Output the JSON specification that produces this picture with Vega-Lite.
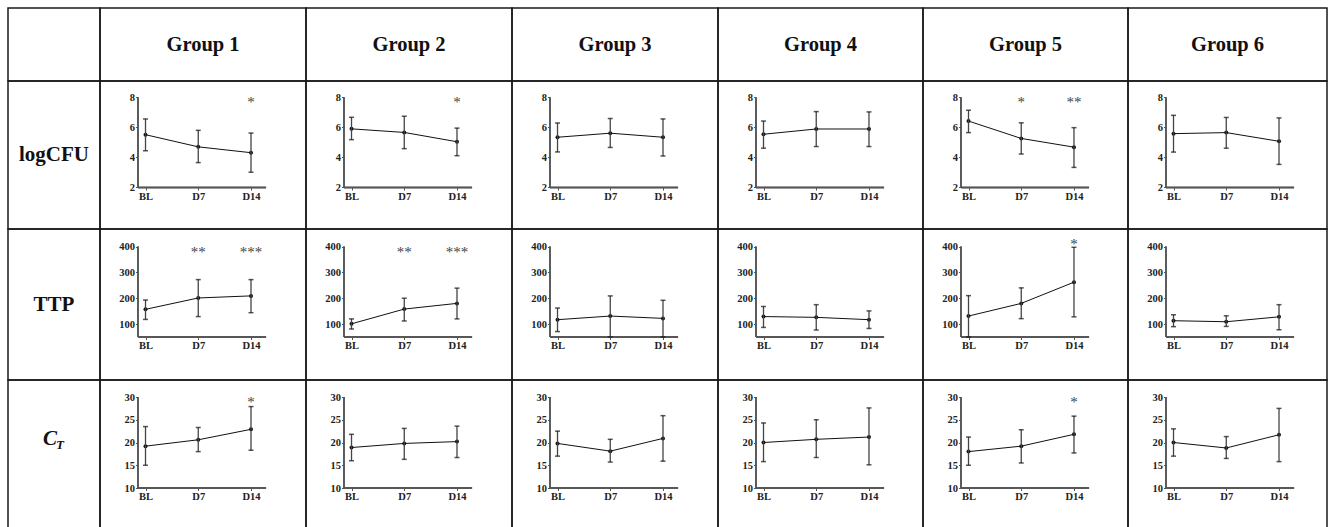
{
"$schema": "https://vega.github.io/schema/vega-lite/v6.json",
"padding": {"left": 7, "top": 7, "right": 0, "bottom": 0},
"columns": 7,
"spacing": 0,
"bounds": "flush",
"align": "each",
"datasets": {"d": [
{"g":1,"m":"logCFU","day":0,"mean":5.52,"lo":4.45,"hi":6.57,"sig":""},
{"g":1,"m":"logCFU","day":7,"mean":4.71,"lo":3.66,"hi":5.81,"sig":""},
{"g":1,"m":"logCFU","day":14,"mean":4.32,"lo":3.02,"hi":5.63,"sig":"*"},
{"g":2,"m":"logCFU","day":0,"mean":5.91,"lo":5.19,"hi":6.68,"sig":""},
{"g":2,"m":"logCFU","day":7,"mean":5.67,"lo":4.59,"hi":6.75,"sig":""},
{"g":2,"m":"logCFU","day":14,"mean":5.05,"lo":4.12,"hi":5.96,"sig":"*"},
{"g":3,"m":"logCFU","day":0,"mean":5.35,"lo":4.37,"hi":6.30,"sig":""},
{"g":3,"m":"logCFU","day":7,"mean":5.62,"lo":4.67,"hi":6.60,"sig":""},
{"g":3,"m":"logCFU","day":14,"mean":5.35,"lo":4.10,"hi":6.57,"sig":""},
{"g":4,"m":"logCFU","day":0,"mean":5.55,"lo":4.62,"hi":6.43,"sig":""},
{"g":4,"m":"logCFU","day":7,"mean":5.90,"lo":4.73,"hi":7.06,"sig":""},
{"g":4,"m":"logCFU","day":14,"mean":5.90,"lo":4.73,"hi":7.04,"sig":""},
{"g":5,"m":"logCFU","day":0,"mean":6.43,"lo":5.66,"hi":7.15,"sig":""},
{"g":5,"m":"logCFU","day":7,"mean":5.27,"lo":4.23,"hi":6.31,"sig":"*"},
{"g":5,"m":"logCFU","day":14,"mean":4.69,"lo":3.34,"hi":5.99,"sig":"**"},
{"g":6,"m":"logCFU","day":0,"mean":5.59,"lo":4.36,"hi":6.81,"sig":""},
{"g":6,"m":"logCFU","day":7,"mean":5.66,"lo":4.62,"hi":6.67,"sig":""},
{"g":6,"m":"logCFU","day":14,"mean":5.08,"lo":3.54,"hi":6.64,"sig":""},
{"g":1,"m":"TTP","day":0,"mean":157,"lo":118,"hi":193,"sig":""},
{"g":1,"m":"TTP","day":7,"mean":201,"lo":129,"hi":272,"sig":"**"},
{"g":1,"m":"TTP","day":14,"mean":209,"lo":144,"hi":272,"sig":"***"},
{"g":2,"m":"TTP","day":0,"mean":101,"lo":81,"hi":120,"sig":""},
{"g":2,"m":"TTP","day":7,"mean":158,"lo":112,"hi":200,"sig":"**"},
{"g":2,"m":"TTP","day":14,"mean":180,"lo":120,"hi":239,"sig":"***"},
{"g":3,"m":"TTP","day":0,"mean":117,"lo":71,"hi":162,"sig":""},
{"g":3,"m":"TTP","day":7,"mean":131,"lo":50,"hi":209,"sig":""},
{"g":3,"m":"TTP","day":14,"mean":122,"lo":50,"hi":192,"sig":""},
{"g":4,"m":"TTP","day":0,"mean":129,"lo":87,"hi":168,"sig":""},
{"g":4,"m":"TTP","day":7,"mean":126,"lo":77,"hi":175,"sig":""},
{"g":4,"m":"TTP","day":14,"mean":117,"lo":83,"hi":151,"sig":""},
{"g":5,"m":"TTP","day":0,"mean":131,"lo":50,"hi":210,"sig":""},
{"g":5,"m":"TTP","day":7,"mean":180,"lo":121,"hi":240,"sig":""},
{"g":5,"m":"TTP","day":14,"mean":262,"lo":128,"hi":397,"sig":"*"},
{"g":6,"m":"TTP","day":0,"mean":113,"lo":90,"hi":136,"sig":""},
{"g":6,"m":"TTP","day":7,"mean":109,"lo":91,"hi":132,"sig":""},
{"g":6,"m":"TTP","day":14,"mean":128,"lo":78,"hi":175,"sig":""},
{"g":1,"m":"CT","day":0,"mean":19.2,"lo":15.0,"hi":23.5,"sig":""},
{"g":1,"m":"CT","day":7,"mean":20.6,"lo":18.0,"hi":23.3,"sig":""},
{"g":1,"m":"CT","day":14,"mean":22.9,"lo":18.3,"hi":27.9,"sig":"*"},
{"g":2,"m":"CT","day":0,"mean":18.9,"lo":16.0,"hi":21.8,"sig":""},
{"g":2,"m":"CT","day":7,"mean":19.8,"lo":16.3,"hi":23.1,"sig":""},
{"g":2,"m":"CT","day":14,"mean":20.2,"lo":16.7,"hi":23.6,"sig":""},
{"g":3,"m":"CT","day":0,"mean":19.8,"lo":17.0,"hi":22.5,"sig":""},
{"g":3,"m":"CT","day":7,"mean":18.1,"lo":15.7,"hi":20.7,"sig":""},
{"g":3,"m":"CT","day":14,"mean":20.9,"lo":15.9,"hi":25.9,"sig":""},
{"g":4,"m":"CT","day":0,"mean":20.0,"lo":15.8,"hi":24.3,"sig":""},
{"g":4,"m":"CT","day":7,"mean":20.7,"lo":16.7,"hi":25.0,"sig":""},
{"g":4,"m":"CT","day":14,"mean":21.2,"lo":15.1,"hi":27.6,"sig":""},
{"g":5,"m":"CT","day":0,"mean":18.0,"lo":15.0,"hi":21.2,"sig":""},
{"g":5,"m":"CT","day":7,"mean":19.2,"lo":15.5,"hi":22.8,"sig":""},
{"g":5,"m":"CT","day":14,"mean":21.8,"lo":17.7,"hi":25.8,"sig":"*"},
{"g":6,"m":"CT","day":0,"mean":20.0,"lo":17.0,"hi":23.0,"sig":""},
{"g":6,"m":"CT","day":7,"mean":18.8,"lo":16.5,"hi":21.3,"sig":""},
{"g":6,"m":"CT","day":14,"mean":21.7,"lo":15.8,"hi":27.5,"sig":""}
]},
"concat": [
{"width":92,"height":73,"view":{"stroke":"#1a1a1a","strokeWidth":1.5},"data":{"values":[{"label":""}]},"mark":{"type":"text"},"encoding":{"text":{"field":"label"}}},
{"width":206,"height":73,"view":{"stroke":"#1a1a1a","strokeWidth":1.5},"data":{"values":[{"label":"Group 1"}]},"mark":{"type":"text","fontSize":20.5,"fontWeight":"bold","color":"#111"},"encoding":{"text":{"field":"label"}}},
{"width":206,"height":73,"view":{"stroke":"#1a1a1a","strokeWidth":1.5},"data":{"values":[{"label":"Group 2"}]},"mark":{"type":"text","fontSize":20.5,"fontWeight":"bold","color":"#111"},"encoding":{"text":{"field":"label"}}},
{"width":206,"height":73,"view":{"stroke":"#1a1a1a","strokeWidth":1.5},"data":{"values":[{"label":"Group 3"}]},"mark":{"type":"text","fontSize":20.5,"fontWeight":"bold","color":"#111"},"encoding":{"text":{"field":"label"}}},
{"width":205,"height":73,"view":{"stroke":"#1a1a1a","strokeWidth":1.5},"data":{"values":[{"label":"Group 4"}]},"mark":{"type":"text","fontSize":20.5,"fontWeight":"bold","color":"#111"},"encoding":{"text":{"field":"label"}}},
{"width":205,"height":73,"view":{"stroke":"#1a1a1a","strokeWidth":1.5},"data":{"values":[{"label":"Group 5"}]},"mark":{"type":"text","fontSize":20.5,"fontWeight":"bold","color":"#111"},"encoding":{"text":{"field":"label"}}},
{"width":199,"height":73,"view":{"stroke":"#1a1a1a","strokeWidth":1.5},"data":{"values":[{"label":"Group 6"}]},"mark":{"type":"text","fontSize":20.5,"fontWeight":"bold","color":"#111"},"encoding":{"text":{"field":"label"}}},

{"width":92,"height":148,"view":{"stroke":"#1a1a1a","strokeWidth":1.5},"data":{"values":[{"label":"logCFU"}]},"mark":{"type":"text","fontSize":21,"fontWeight":"bold","color":"#111"},"encoding":{"text":{"field":"label"}}},
{"width":206,"height":148,"data":{"name":"d"},"transform":[{"filter":"datum.g==1 && datum.m=='logCFU'"}],"resolve":{"axis":{"x":"independent","y":"independent"}},"layer":[
{"mark":{"type":"line","color":"#111","strokeWidth":1,"point":{"filled":true,"size":16,"color":"#111"}},"encoding":{"x":{"field":"day","type":"quantitative","scale":{"domain":[-6.04,21.3],"nice":false},"axis":{"values":[0,7,14],"offset":-41.5,"title":null,"labelExpr":"datum.value == 0 ? 'BL' : 'D' + datum.value"}},"y":{"field":"mean","type":"quantitative","scale":{"domain":[-0.767,9.1],"nice":false},"axis":{"values":[2,4,6,8],"title":null}}}},
{"mark":{"type":"rule","color":"#555","strokeWidth":1.3},"encoding":{"x":{"datum":-1,"type":"quantitative","scale":{"domain":[-6.04,21.3],"nice":false},"axis":null},"y":{"datum":2,"type":"quantitative","scale":{"domain":[-0.767,9.1],"nice":false},"axis":null},"y2":{"datum":8}}},
{"mark":{"type":"rule","color":"#555","strokeWidth":1.3},"encoding":{"x":{"datum":-1,"type":"quantitative","scale":{"domain":[-6.04,21.3],"nice":false},"axis":null},"x2":{"datum":16},"y":{"datum":2,"type":"quantitative","scale":{"domain":[-0.767,9.1],"nice":false},"axis":null}}},
{"mark":{"type":"rule","color":"#444","strokeWidth":1.3},"encoding":{"x":{"field":"day","type":"quantitative","scale":{"domain":[-6.04,21.3],"nice":false},"axis":null},"y":{"field":"lo","type":"quantitative","scale":{"domain":[-0.767,9.1],"nice":false},"axis":null},"y2":{"field":"hi"}}},
{"mark":{"type":"tick","orient":"horizontal","size":5,"thickness":1.5,"color":"#111"},"encoding":{"x":{"field":"day","type":"quantitative","scale":{"domain":[-6.04,21.3],"nice":false},"axis":null},"y":{"field":"lo","type":"quantitative","scale":{"domain":[-0.767,9.1],"nice":false},"axis":null}}},
{"mark":{"type":"tick","orient":"horizontal","size":5,"thickness":1.5,"color":"#111"},"encoding":{"x":{"field":"day","type":"quantitative","scale":{"domain":[-6.04,21.3],"nice":false},"axis":null},"y":{"field":"hi","type":"quantitative","scale":{"domain":[-0.767,9.1],"nice":false},"axis":null}}},
{"mark":{"type":"text","fontSize":15,"color":"#444","dy":5},"encoding":{"x":{"field":"day","type":"quantitative","scale":{"domain":[-6.04,21.3],"nice":false},"axis":null},"y":{"datum":8,"type":"quantitative","scale":{"domain":[-0.767,9.1],"nice":false},"axis":null},"text":{"field":"sig"}}}
]},
{"width":206,"height":148,"data":{"name":"d"},"transform":[{"filter":"datum.g==2 && datum.m=='logCFU'"}],"resolve":{"axis":{"x":"independent","y":"independent"}},"layer":[
{"mark":{"type":"line","color":"#111","strokeWidth":1,"point":{"filled":true,"size":16,"color":"#111"}},"encoding":{"x":{"field":"day","type":"quantitative","scale":{"domain":[-6.04,21.3],"nice":false},"axis":{"values":[0,7,14],"offset":-41.5,"title":null,"labelExpr":"datum.value == 0 ? 'BL' : 'D' + datum.value"}},"y":{"field":"mean","type":"quantitative","scale":{"domain":[-0.767,9.1],"nice":false},"axis":{"values":[2,4,6,8],"title":null}}}},
{"mark":{"type":"rule","color":"#555","strokeWidth":1.3},"encoding":{"x":{"datum":-1,"type":"quantitative","scale":{"domain":[-6.04,21.3],"nice":false},"axis":null},"y":{"datum":2,"type":"quantitative","scale":{"domain":[-0.767,9.1],"nice":false},"axis":null},"y2":{"datum":8}}},
{"mark":{"type":"rule","color":"#555","strokeWidth":1.3},"encoding":{"x":{"datum":-1,"type":"quantitative","scale":{"domain":[-6.04,21.3],"nice":false},"axis":null},"x2":{"datum":16},"y":{"datum":2,"type":"quantitative","scale":{"domain":[-0.767,9.1],"nice":false},"axis":null}}},
{"mark":{"type":"rule","color":"#444","strokeWidth":1.3},"encoding":{"x":{"field":"day","type":"quantitative","scale":{"domain":[-6.04,21.3],"nice":false},"axis":null},"y":{"field":"lo","type":"quantitative","scale":{"domain":[-0.767,9.1],"nice":false},"axis":null},"y2":{"field":"hi"}}},
{"mark":{"type":"tick","orient":"horizontal","size":5,"thickness":1.5,"color":"#111"},"encoding":{"x":{"field":"day","type":"quantitative","scale":{"domain":[-6.04,21.3],"nice":false},"axis":null},"y":{"field":"lo","type":"quantitative","scale":{"domain":[-0.767,9.1],"nice":false},"axis":null}}},
{"mark":{"type":"tick","orient":"horizontal","size":5,"thickness":1.5,"color":"#111"},"encoding":{"x":{"field":"day","type":"quantitative","scale":{"domain":[-6.04,21.3],"nice":false},"axis":null},"y":{"field":"hi","type":"quantitative","scale":{"domain":[-0.767,9.1],"nice":false},"axis":null}}},
{"mark":{"type":"text","fontSize":15,"color":"#444","dy":5},"encoding":{"x":{"field":"day","type":"quantitative","scale":{"domain":[-6.04,21.3],"nice":false},"axis":null},"y":{"datum":8,"type":"quantitative","scale":{"domain":[-0.767,9.1],"nice":false},"axis":null},"text":{"field":"sig"}}}
]},
{"width":206,"height":148,"data":{"name":"d"},"transform":[{"filter":"datum.g==3 && datum.m=='logCFU'"}],"resolve":{"axis":{"x":"independent","y":"independent"}},"layer":[
{"mark":{"type":"line","color":"#111","strokeWidth":1,"point":{"filled":true,"size":16,"color":"#111"}},"encoding":{"x":{"field":"day","type":"quantitative","scale":{"domain":[-6.04,21.3],"nice":false},"axis":{"values":[0,7,14],"offset":-41.5,"title":null,"labelExpr":"datum.value == 0 ? 'BL' : 'D' + datum.value"}},"y":{"field":"mean","type":"quantitative","scale":{"domain":[-0.767,9.1],"nice":false},"axis":{"values":[2,4,6,8],"title":null}}}},
{"mark":{"type":"rule","color":"#555","strokeWidth":1.3},"encoding":{"x":{"datum":-1,"type":"quantitative","scale":{"domain":[-6.04,21.3],"nice":false},"axis":null},"y":{"datum":2,"type":"quantitative","scale":{"domain":[-0.767,9.1],"nice":false},"axis":null},"y2":{"datum":8}}},
{"mark":{"type":"rule","color":"#555","strokeWidth":1.3},"encoding":{"x":{"datum":-1,"type":"quantitative","scale":{"domain":[-6.04,21.3],"nice":false},"axis":null},"x2":{"datum":16},"y":{"datum":2,"type":"quantitative","scale":{"domain":[-0.767,9.1],"nice":false},"axis":null}}},
{"mark":{"type":"rule","color":"#444","strokeWidth":1.3},"encoding":{"x":{"field":"day","type":"quantitative","scale":{"domain":[-6.04,21.3],"nice":false},"axis":null},"y":{"field":"lo","type":"quantitative","scale":{"domain":[-0.767,9.1],"nice":false},"axis":null},"y2":{"field":"hi"}}},
{"mark":{"type":"tick","orient":"horizontal","size":5,"thickness":1.5,"color":"#111"},"encoding":{"x":{"field":"day","type":"quantitative","scale":{"domain":[-6.04,21.3],"nice":false},"axis":null},"y":{"field":"lo","type":"quantitative","scale":{"domain":[-0.767,9.1],"nice":false},"axis":null}}},
{"mark":{"type":"tick","orient":"horizontal","size":5,"thickness":1.5,"color":"#111"},"encoding":{"x":{"field":"day","type":"quantitative","scale":{"domain":[-6.04,21.3],"nice":false},"axis":null},"y":{"field":"hi","type":"quantitative","scale":{"domain":[-0.767,9.1],"nice":false},"axis":null}}},
{"mark":{"type":"text","fontSize":15,"color":"#444","dy":5},"encoding":{"x":{"field":"day","type":"quantitative","scale":{"domain":[-6.04,21.3],"nice":false},"axis":null},"y":{"datum":8,"type":"quantitative","scale":{"domain":[-0.767,9.1],"nice":false},"axis":null},"text":{"field":"sig"}}}
]},
{"width":205,"height":148,"data":{"name":"d"},"transform":[{"filter":"datum.g==4 && datum.m=='logCFU'"}],"resolve":{"axis":{"x":"independent","y":"independent"}},"layer":[
{"mark":{"type":"line","color":"#111","strokeWidth":1,"point":{"filled":true,"size":16,"color":"#111"}},"encoding":{"x":{"field":"day","type":"quantitative","scale":{"domain":[-6.04,21.17],"nice":false},"axis":{"values":[0,7,14],"offset":-41.5,"title":null,"labelExpr":"datum.value == 0 ? 'BL' : 'D' + datum.value"}},"y":{"field":"mean","type":"quantitative","scale":{"domain":[-0.767,9.1],"nice":false},"axis":{"values":[2,4,6,8],"title":null}}}},
{"mark":{"type":"rule","color":"#555","strokeWidth":1.3},"encoding":{"x":{"datum":-1,"type":"quantitative","scale":{"domain":[-6.04,21.17],"nice":false},"axis":null},"y":{"datum":2,"type":"quantitative","scale":{"domain":[-0.767,9.1],"nice":false},"axis":null},"y2":{"datum":8}}},
{"mark":{"type":"rule","color":"#555","strokeWidth":1.3},"encoding":{"x":{"datum":-1,"type":"quantitative","scale":{"domain":[-6.04,21.17],"nice":false},"axis":null},"x2":{"datum":16},"y":{"datum":2,"type":"quantitative","scale":{"domain":[-0.767,9.1],"nice":false},"axis":null}}},
{"mark":{"type":"rule","color":"#444","strokeWidth":1.3},"encoding":{"x":{"field":"day","type":"quantitative","scale":{"domain":[-6.04,21.17],"nice":false},"axis":null},"y":{"field":"lo","type":"quantitative","scale":{"domain":[-0.767,9.1],"nice":false},"axis":null},"y2":{"field":"hi"}}},
{"mark":{"type":"tick","orient":"horizontal","size":5,"thickness":1.5,"color":"#111"},"encoding":{"x":{"field":"day","type":"quantitative","scale":{"domain":[-6.04,21.17],"nice":false},"axis":null},"y":{"field":"lo","type":"quantitative","scale":{"domain":[-0.767,9.1],"nice":false},"axis":null}}},
{"mark":{"type":"tick","orient":"horizontal","size":5,"thickness":1.5,"color":"#111"},"encoding":{"x":{"field":"day","type":"quantitative","scale":{"domain":[-6.04,21.17],"nice":false},"axis":null},"y":{"field":"hi","type":"quantitative","scale":{"domain":[-0.767,9.1],"nice":false},"axis":null}}},
{"mark":{"type":"text","fontSize":15,"color":"#444","dy":5},"encoding":{"x":{"field":"day","type":"quantitative","scale":{"domain":[-6.04,21.17],"nice":false},"axis":null},"y":{"datum":8,"type":"quantitative","scale":{"domain":[-0.767,9.1],"nice":false},"axis":null},"text":{"field":"sig"}}}
]},
{"width":205,"height":148,"data":{"name":"d"},"transform":[{"filter":"datum.g==5 && datum.m=='logCFU'"}],"resolve":{"axis":{"x":"independent","y":"independent"}},"layer":[
{"mark":{"type":"line","color":"#111","strokeWidth":1,"point":{"filled":true,"size":16,"color":"#111"}},"encoding":{"x":{"field":"day","type":"quantitative","scale":{"domain":[-6.04,21.17],"nice":false},"axis":{"values":[0,7,14],"offset":-41.5,"title":null,"labelExpr":"datum.value == 0 ? 'BL' : 'D' + datum.value"}},"y":{"field":"mean","type":"quantitative","scale":{"domain":[-0.767,9.1],"nice":false},"axis":{"values":[2,4,6,8],"title":null}}}},
{"mark":{"type":"rule","color":"#555","strokeWidth":1.3},"encoding":{"x":{"datum":-1,"type":"quantitative","scale":{"domain":[-6.04,21.17],"nice":false},"axis":null},"y":{"datum":2,"type":"quantitative","scale":{"domain":[-0.767,9.1],"nice":false},"axis":null},"y2":{"datum":8}}},
{"mark":{"type":"rule","color":"#555","strokeWidth":1.3},"encoding":{"x":{"datum":-1,"type":"quantitative","scale":{"domain":[-6.04,21.17],"nice":false},"axis":null},"x2":{"datum":16},"y":{"datum":2,"type":"quantitative","scale":{"domain":[-0.767,9.1],"nice":false},"axis":null}}},
{"mark":{"type":"rule","color":"#444","strokeWidth":1.3},"encoding":{"x":{"field":"day","type":"quantitative","scale":{"domain":[-6.04,21.17],"nice":false},"axis":null},"y":{"field":"lo","type":"quantitative","scale":{"domain":[-0.767,9.1],"nice":false},"axis":null},"y2":{"field":"hi"}}},
{"mark":{"type":"tick","orient":"horizontal","size":5,"thickness":1.5,"color":"#111"},"encoding":{"x":{"field":"day","type":"quantitative","scale":{"domain":[-6.04,21.17],"nice":false},"axis":null},"y":{"field":"lo","type":"quantitative","scale":{"domain":[-0.767,9.1],"nice":false},"axis":null}}},
{"mark":{"type":"tick","orient":"horizontal","size":5,"thickness":1.5,"color":"#111"},"encoding":{"x":{"field":"day","type":"quantitative","scale":{"domain":[-6.04,21.17],"nice":false},"axis":null},"y":{"field":"hi","type":"quantitative","scale":{"domain":[-0.767,9.1],"nice":false},"axis":null}}},
{"mark":{"type":"text","fontSize":15,"color":"#444","dy":5},"encoding":{"x":{"field":"day","type":"quantitative","scale":{"domain":[-6.04,21.17],"nice":false},"axis":null},"y":{"datum":8,"type":"quantitative","scale":{"domain":[-0.767,9.1],"nice":false},"axis":null},"text":{"field":"sig"}}}
]},
{"width":199,"height":148,"data":{"name":"d"},"transform":[{"filter":"datum.g==6 && datum.m=='logCFU'"}],"resolve":{"axis":{"x":"independent","y":"independent"}},"layer":[
{"mark":{"type":"line","color":"#111","strokeWidth":1,"point":{"filled":true,"size":16,"color":"#111"}},"encoding":{"x":{"field":"day","type":"quantitative","scale":{"domain":[-6.04,20.37],"nice":false},"axis":{"values":[0,7,14],"offset":-41.5,"title":null,"labelExpr":"datum.value == 0 ? 'BL' : 'D' + datum.value"}},"y":{"field":"mean","type":"quantitative","scale":{"domain":[-0.767,9.1],"nice":false},"axis":{"values":[2,4,6,8],"title":null}}}},
{"mark":{"type":"rule","color":"#555","strokeWidth":1.3},"encoding":{"x":{"datum":-1,"type":"quantitative","scale":{"domain":[-6.04,20.37],"nice":false},"axis":null},"y":{"datum":2,"type":"quantitative","scale":{"domain":[-0.767,9.1],"nice":false},"axis":null},"y2":{"datum":8}}},
{"mark":{"type":"rule","color":"#555","strokeWidth":1.3},"encoding":{"x":{"datum":-1,"type":"quantitative","scale":{"domain":[-6.04,20.37],"nice":false},"axis":null},"x2":{"datum":16},"y":{"datum":2,"type":"quantitative","scale":{"domain":[-0.767,9.1],"nice":false},"axis":null}}},
{"mark":{"type":"rule","color":"#444","strokeWidth":1.3},"encoding":{"x":{"field":"day","type":"quantitative","scale":{"domain":[-6.04,20.37],"nice":false},"axis":null},"y":{"field":"lo","type":"quantitative","scale":{"domain":[-0.767,9.1],"nice":false},"axis":null},"y2":{"field":"hi"}}},
{"mark":{"type":"tick","orient":"horizontal","size":5,"thickness":1.5,"color":"#111"},"encoding":{"x":{"field":"day","type":"quantitative","scale":{"domain":[-6.04,20.37],"nice":false},"axis":null},"y":{"field":"lo","type":"quantitative","scale":{"domain":[-0.767,9.1],"nice":false},"axis":null}}},
{"mark":{"type":"tick","orient":"horizontal","size":5,"thickness":1.5,"color":"#111"},"encoding":{"x":{"field":"day","type":"quantitative","scale":{"domain":[-6.04,20.37],"nice":false},"axis":null},"y":{"field":"hi","type":"quantitative","scale":{"domain":[-0.767,9.1],"nice":false},"axis":null}}},
{"mark":{"type":"text","fontSize":15,"color":"#444","dy":5},"encoding":{"x":{"field":"day","type":"quantitative","scale":{"domain":[-6.04,20.37],"nice":false},"axis":null},"y":{"datum":8,"type":"quantitative","scale":{"domain":[-0.767,9.1],"nice":false},"axis":null},"text":{"field":"sig"}}}
]},

{"width":92,"height":151,"view":{"stroke":"#1a1a1a","strokeWidth":1.5},"data":{"values":[{"label":"TTP"}]},"mark":{"type":"text","fontSize":21,"fontWeight":"bold","color":"#111"},"encoding":{"text":{"field":"label"}}},
{"width":206,"height":151,"data":{"name":"d"},"transform":[{"filter":"datum.g==1 && datum.m=='TTP'"}],"resolve":{"axis":{"x":"independent","y":"independent"}},"layer":[
{"mark":{"type":"line","color":"#111","strokeWidth":1,"point":{"filled":true,"size":16,"color":"#111"}},"encoding":{"x":{"field":"day","type":"quantitative","scale":{"domain":[-6.04,21.3],"nice":false},"axis":{"values":[0,7,14],"offset":-43,"title":null,"labelExpr":"datum.value == 0 ? 'BL' : 'D' + datum.value"}},"y":{"field":"mean","type":"quantitative","scale":{"domain":[-116.3,467.7],"nice":false},"axis":{"values":[100,200,300,400],"title":null}}}},
{"mark":{"type":"rule","color":"#555","strokeWidth":1.3},"encoding":{"x":{"datum":-1,"type":"quantitative","scale":{"domain":[-6.04,21.3],"nice":false},"axis":null},"y":{"datum":50,"type":"quantitative","scale":{"domain":[-116.3,467.7],"nice":false},"axis":null},"y2":{"datum":400}}},
{"mark":{"type":"rule","color":"#555","strokeWidth":1.3},"encoding":{"x":{"datum":-1,"type":"quantitative","scale":{"domain":[-6.04,21.3],"nice":false},"axis":null},"x2":{"datum":16},"y":{"datum":50,"type":"quantitative","scale":{"domain":[-116.3,467.7],"nice":false},"axis":null}}},
{"mark":{"type":"rule","color":"#444","strokeWidth":1.3},"encoding":{"x":{"field":"day","type":"quantitative","scale":{"domain":[-6.04,21.3],"nice":false},"axis":null},"y":{"field":"lo","type":"quantitative","scale":{"domain":[-116.3,467.7],"nice":false},"axis":null},"y2":{"field":"hi"}}},
{"mark":{"type":"tick","orient":"horizontal","size":5,"thickness":1.5,"color":"#111"},"encoding":{"x":{"field":"day","type":"quantitative","scale":{"domain":[-6.04,21.3],"nice":false},"axis":null},"y":{"field":"lo","type":"quantitative","scale":{"domain":[-116.3,467.7],"nice":false},"axis":null}}},
{"mark":{"type":"tick","orient":"horizontal","size":5,"thickness":1.5,"color":"#111"},"encoding":{"x":{"field":"day","type":"quantitative","scale":{"domain":[-6.04,21.3],"nice":false},"axis":null},"y":{"field":"hi","type":"quantitative","scale":{"domain":[-116.3,467.7],"nice":false},"axis":null}}},
{"mark":{"type":"text","fontSize":15,"color":"#444","dy":5},"encoding":{"x":{"field":"day","type":"quantitative","scale":{"domain":[-6.04,21.3],"nice":false},"axis":null},"y":{"datum":400,"type":"quantitative","scale":{"domain":[-116.3,467.7],"nice":false},"axis":null},"text":{"field":"sig"}}}
]},
{"width":206,"height":151,"data":{"name":"d"},"transform":[{"filter":"datum.g==2 && datum.m=='TTP'"}],"resolve":{"axis":{"x":"independent","y":"independent"}},"layer":[
{"mark":{"type":"line","color":"#111","strokeWidth":1,"point":{"filled":true,"size":16,"color":"#111"}},"encoding":{"x":{"field":"day","type":"quantitative","scale":{"domain":[-6.04,21.3],"nice":false},"axis":{"values":[0,7,14],"offset":-43,"title":null,"labelExpr":"datum.value == 0 ? 'BL' : 'D' + datum.value"}},"y":{"field":"mean","type":"quantitative","scale":{"domain":[-116.3,467.7],"nice":false},"axis":{"values":[100,200,300,400],"title":null}}}},
{"mark":{"type":"rule","color":"#555","strokeWidth":1.3},"encoding":{"x":{"datum":-1,"type":"quantitative","scale":{"domain":[-6.04,21.3],"nice":false},"axis":null},"y":{"datum":50,"type":"quantitative","scale":{"domain":[-116.3,467.7],"nice":false},"axis":null},"y2":{"datum":400}}},
{"mark":{"type":"rule","color":"#555","strokeWidth":1.3},"encoding":{"x":{"datum":-1,"type":"quantitative","scale":{"domain":[-6.04,21.3],"nice":false},"axis":null},"x2":{"datum":16},"y":{"datum":50,"type":"quantitative","scale":{"domain":[-116.3,467.7],"nice":false},"axis":null}}},
{"mark":{"type":"rule","color":"#444","strokeWidth":1.3},"encoding":{"x":{"field":"day","type":"quantitative","scale":{"domain":[-6.04,21.3],"nice":false},"axis":null},"y":{"field":"lo","type":"quantitative","scale":{"domain":[-116.3,467.7],"nice":false},"axis":null},"y2":{"field":"hi"}}},
{"mark":{"type":"tick","orient":"horizontal","size":5,"thickness":1.5,"color":"#111"},"encoding":{"x":{"field":"day","type":"quantitative","scale":{"domain":[-6.04,21.3],"nice":false},"axis":null},"y":{"field":"lo","type":"quantitative","scale":{"domain":[-116.3,467.7],"nice":false},"axis":null}}},
{"mark":{"type":"tick","orient":"horizontal","size":5,"thickness":1.5,"color":"#111"},"encoding":{"x":{"field":"day","type":"quantitative","scale":{"domain":[-6.04,21.3],"nice":false},"axis":null},"y":{"field":"hi","type":"quantitative","scale":{"domain":[-116.3,467.7],"nice":false},"axis":null}}},
{"mark":{"type":"text","fontSize":15,"color":"#444","dy":5},"encoding":{"x":{"field":"day","type":"quantitative","scale":{"domain":[-6.04,21.3],"nice":false},"axis":null},"y":{"datum":400,"type":"quantitative","scale":{"domain":[-116.3,467.7],"nice":false},"axis":null},"text":{"field":"sig"}}}
]},
{"width":206,"height":151,"data":{"name":"d"},"transform":[{"filter":"datum.g==3 && datum.m=='TTP'"}],"resolve":{"axis":{"x":"independent","y":"independent"}},"layer":[
{"mark":{"type":"line","color":"#111","strokeWidth":1,"point":{"filled":true,"size":16,"color":"#111"}},"encoding":{"x":{"field":"day","type":"quantitative","scale":{"domain":[-6.04,21.3],"nice":false},"axis":{"values":[0,7,14],"offset":-43,"title":null,"labelExpr":"datum.value == 0 ? 'BL' : 'D' + datum.value"}},"y":{"field":"mean","type":"quantitative","scale":{"domain":[-116.3,467.7],"nice":false},"axis":{"values":[100,200,300,400],"title":null}}}},
{"mark":{"type":"rule","color":"#555","strokeWidth":1.3},"encoding":{"x":{"datum":-1,"type":"quantitative","scale":{"domain":[-6.04,21.3],"nice":false},"axis":null},"y":{"datum":50,"type":"quantitative","scale":{"domain":[-116.3,467.7],"nice":false},"axis":null},"y2":{"datum":400}}},
{"mark":{"type":"rule","color":"#555","strokeWidth":1.3},"encoding":{"x":{"datum":-1,"type":"quantitative","scale":{"domain":[-6.04,21.3],"nice":false},"axis":null},"x2":{"datum":16},"y":{"datum":50,"type":"quantitative","scale":{"domain":[-116.3,467.7],"nice":false},"axis":null}}},
{"mark":{"type":"rule","color":"#444","strokeWidth":1.3},"encoding":{"x":{"field":"day","type":"quantitative","scale":{"domain":[-6.04,21.3],"nice":false},"axis":null},"y":{"field":"lo","type":"quantitative","scale":{"domain":[-116.3,467.7],"nice":false},"axis":null},"y2":{"field":"hi"}}},
{"mark":{"type":"tick","orient":"horizontal","size":5,"thickness":1.5,"color":"#111"},"encoding":{"x":{"field":"day","type":"quantitative","scale":{"domain":[-6.04,21.3],"nice":false},"axis":null},"y":{"field":"lo","type":"quantitative","scale":{"domain":[-116.3,467.7],"nice":false},"axis":null}}},
{"mark":{"type":"tick","orient":"horizontal","size":5,"thickness":1.5,"color":"#111"},"encoding":{"x":{"field":"day","type":"quantitative","scale":{"domain":[-6.04,21.3],"nice":false},"axis":null},"y":{"field":"hi","type":"quantitative","scale":{"domain":[-116.3,467.7],"nice":false},"axis":null}}},
{"mark":{"type":"text","fontSize":15,"color":"#444","dy":5},"encoding":{"x":{"field":"day","type":"quantitative","scale":{"domain":[-6.04,21.3],"nice":false},"axis":null},"y":{"datum":400,"type":"quantitative","scale":{"domain":[-116.3,467.7],"nice":false},"axis":null},"text":{"field":"sig"}}}
]},
{"width":205,"height":151,"data":{"name":"d"},"transform":[{"filter":"datum.g==4 && datum.m=='TTP'"}],"resolve":{"axis":{"x":"independent","y":"independent"}},"layer":[
{"mark":{"type":"line","color":"#111","strokeWidth":1,"point":{"filled":true,"size":16,"color":"#111"}},"encoding":{"x":{"field":"day","type":"quantitative","scale":{"domain":[-6.04,21.17],"nice":false},"axis":{"values":[0,7,14],"offset":-43,"title":null,"labelExpr":"datum.value == 0 ? 'BL' : 'D' + datum.value"}},"y":{"field":"mean","type":"quantitative","scale":{"domain":[-116.3,467.7],"nice":false},"axis":{"values":[100,200,300,400],"title":null}}}},
{"mark":{"type":"rule","color":"#555","strokeWidth":1.3},"encoding":{"x":{"datum":-1,"type":"quantitative","scale":{"domain":[-6.04,21.17],"nice":false},"axis":null},"y":{"datum":50,"type":"quantitative","scale":{"domain":[-116.3,467.7],"nice":false},"axis":null},"y2":{"datum":400}}},
{"mark":{"type":"rule","color":"#555","strokeWidth":1.3},"encoding":{"x":{"datum":-1,"type":"quantitative","scale":{"domain":[-6.04,21.17],"nice":false},"axis":null},"x2":{"datum":16},"y":{"datum":50,"type":"quantitative","scale":{"domain":[-116.3,467.7],"nice":false},"axis":null}}},
{"mark":{"type":"rule","color":"#444","strokeWidth":1.3},"encoding":{"x":{"field":"day","type":"quantitative","scale":{"domain":[-6.04,21.17],"nice":false},"axis":null},"y":{"field":"lo","type":"quantitative","scale":{"domain":[-116.3,467.7],"nice":false},"axis":null},"y2":{"field":"hi"}}},
{"mark":{"type":"tick","orient":"horizontal","size":5,"thickness":1.5,"color":"#111"},"encoding":{"x":{"field":"day","type":"quantitative","scale":{"domain":[-6.04,21.17],"nice":false},"axis":null},"y":{"field":"lo","type":"quantitative","scale":{"domain":[-116.3,467.7],"nice":false},"axis":null}}},
{"mark":{"type":"tick","orient":"horizontal","size":5,"thickness":1.5,"color":"#111"},"encoding":{"x":{"field":"day","type":"quantitative","scale":{"domain":[-6.04,21.17],"nice":false},"axis":null},"y":{"field":"hi","type":"quantitative","scale":{"domain":[-116.3,467.7],"nice":false},"axis":null}}},
{"mark":{"type":"text","fontSize":15,"color":"#444","dy":5},"encoding":{"x":{"field":"day","type":"quantitative","scale":{"domain":[-6.04,21.17],"nice":false},"axis":null},"y":{"datum":400,"type":"quantitative","scale":{"domain":[-116.3,467.7],"nice":false},"axis":null},"text":{"field":"sig"}}}
]},
{"width":205,"height":151,"data":{"name":"d"},"transform":[{"filter":"datum.g==5 && datum.m=='TTP'"}],"resolve":{"axis":{"x":"independent","y":"independent"}},"layer":[
{"mark":{"type":"line","color":"#111","strokeWidth":1,"point":{"filled":true,"size":16,"color":"#111"}},"encoding":{"x":{"field":"day","type":"quantitative","scale":{"domain":[-6.04,21.17],"nice":false},"axis":{"values":[0,7,14],"offset":-43,"title":null,"labelExpr":"datum.value == 0 ? 'BL' : 'D' + datum.value"}},"y":{"field":"mean","type":"quantitative","scale":{"domain":[-116.3,467.7],"nice":false},"axis":{"values":[100,200,300,400],"title":null}}}},
{"mark":{"type":"rule","color":"#555","strokeWidth":1.3},"encoding":{"x":{"datum":-1,"type":"quantitative","scale":{"domain":[-6.04,21.17],"nice":false},"axis":null},"y":{"datum":50,"type":"quantitative","scale":{"domain":[-116.3,467.7],"nice":false},"axis":null},"y2":{"datum":400}}},
{"mark":{"type":"rule","color":"#555","strokeWidth":1.3},"encoding":{"x":{"datum":-1,"type":"quantitative","scale":{"domain":[-6.04,21.17],"nice":false},"axis":null},"x2":{"datum":16},"y":{"datum":50,"type":"quantitative","scale":{"domain":[-116.3,467.7],"nice":false},"axis":null}}},
{"mark":{"type":"rule","color":"#444","strokeWidth":1.3},"encoding":{"x":{"field":"day","type":"quantitative","scale":{"domain":[-6.04,21.17],"nice":false},"axis":null},"y":{"field":"lo","type":"quantitative","scale":{"domain":[-116.3,467.7],"nice":false},"axis":null},"y2":{"field":"hi"}}},
{"mark":{"type":"tick","orient":"horizontal","size":5,"thickness":1.5,"color":"#111"},"encoding":{"x":{"field":"day","type":"quantitative","scale":{"domain":[-6.04,21.17],"nice":false},"axis":null},"y":{"field":"lo","type":"quantitative","scale":{"domain":[-116.3,467.7],"nice":false},"axis":null}}},
{"mark":{"type":"tick","orient":"horizontal","size":5,"thickness":1.5,"color":"#111"},"encoding":{"x":{"field":"day","type":"quantitative","scale":{"domain":[-6.04,21.17],"nice":false},"axis":null},"y":{"field":"hi","type":"quantitative","scale":{"domain":[-116.3,467.7],"nice":false},"axis":null}}},
{"mark":{"type":"text","fontSize":15,"color":"#444","dy":-3},"encoding":{"x":{"field":"day","type":"quantitative","scale":{"domain":[-6.04,21.17],"nice":false},"axis":null},"y":{"datum":400,"type":"quantitative","scale":{"domain":[-116.3,467.7],"nice":false},"axis":null},"text":{"field":"sig"}}}
]},
{"width":199,"height":151,"data":{"name":"d"},"transform":[{"filter":"datum.g==6 && datum.m=='TTP'"}],"resolve":{"axis":{"x":"independent","y":"independent"}},"layer":[
{"mark":{"type":"line","color":"#111","strokeWidth":1,"point":{"filled":true,"size":16,"color":"#111"}},"encoding":{"x":{"field":"day","type":"quantitative","scale":{"domain":[-6.04,20.37],"nice":false},"axis":{"values":[0,7,14],"offset":-43,"title":null,"labelExpr":"datum.value == 0 ? 'BL' : 'D' + datum.value"}},"y":{"field":"mean","type":"quantitative","scale":{"domain":[-116.3,467.7],"nice":false},"axis":{"values":[100,200,300,400],"title":null}}}},
{"mark":{"type":"rule","color":"#555","strokeWidth":1.3},"encoding":{"x":{"datum":-1,"type":"quantitative","scale":{"domain":[-6.04,20.37],"nice":false},"axis":null},"y":{"datum":50,"type":"quantitative","scale":{"domain":[-116.3,467.7],"nice":false},"axis":null},"y2":{"datum":400}}},
{"mark":{"type":"rule","color":"#555","strokeWidth":1.3},"encoding":{"x":{"datum":-1,"type":"quantitative","scale":{"domain":[-6.04,20.37],"nice":false},"axis":null},"x2":{"datum":16},"y":{"datum":50,"type":"quantitative","scale":{"domain":[-116.3,467.7],"nice":false},"axis":null}}},
{"mark":{"type":"rule","color":"#444","strokeWidth":1.3},"encoding":{"x":{"field":"day","type":"quantitative","scale":{"domain":[-6.04,20.37],"nice":false},"axis":null},"y":{"field":"lo","type":"quantitative","scale":{"domain":[-116.3,467.7],"nice":false},"axis":null},"y2":{"field":"hi"}}},
{"mark":{"type":"tick","orient":"horizontal","size":5,"thickness":1.5,"color":"#111"},"encoding":{"x":{"field":"day","type":"quantitative","scale":{"domain":[-6.04,20.37],"nice":false},"axis":null},"y":{"field":"lo","type":"quantitative","scale":{"domain":[-116.3,467.7],"nice":false},"axis":null}}},
{"mark":{"type":"tick","orient":"horizontal","size":5,"thickness":1.5,"color":"#111"},"encoding":{"x":{"field":"day","type":"quantitative","scale":{"domain":[-6.04,20.37],"nice":false},"axis":null},"y":{"field":"hi","type":"quantitative","scale":{"domain":[-116.3,467.7],"nice":false},"axis":null}}},
{"mark":{"type":"text","fontSize":15,"color":"#444","dy":5},"encoding":{"x":{"field":"day","type":"quantitative","scale":{"domain":[-6.04,20.37],"nice":false},"axis":null},"y":{"datum":400,"type":"quantitative","scale":{"domain":[-116.3,467.7],"nice":false},"axis":null},"text":{"field":"sig"}}}
]},

{"width":92,"height":148,"view":{"stroke":"#1a1a1a","strokeWidth":1.5},"data":{"values":[{"a":"C","b":"T"}]},"layer":[
{"mark":{"type":"text","fontSize":21,"fontWeight":"bold","fontStyle":"italic","color":"#111","dx":-4,"dy":-15},"encoding":{"text":{"field":"a"}}},
{"mark":{"type":"text","fontSize":13,"fontWeight":"bold","fontStyle":"italic","color":"#111","dx":6,"dy":-9},"encoding":{"text":{"field":"b"}}}
]},
{"width":206,"height":148,"data":{"name":"d"},"transform":[{"filter":"datum.g==1 && datum.m=='CT'"}],"resolve":{"axis":{"x":"independent","y":"independent"}},"layer":[
{"mark":{"type":"line","color":"#111","strokeWidth":1,"point":{"filled":true,"size":16,"color":"#111"}},"encoding":{"x":{"field":"day","type":"quantitative","scale":{"domain":[-6.04,21.3],"nice":false},"axis":{"values":[0,7,14],"offset":-40,"title":null,"labelExpr":"datum.value == 0 ? 'BL' : 'D' + datum.value"}},"y":{"field":"mean","type":"quantitative","scale":{"domain":[1.21,33.74],"nice":false},"axis":{"values":[10,15,20,25,30],"title":null}}}},
{"mark":{"type":"rule","color":"#555","strokeWidth":1.3},"encoding":{"x":{"datum":-1,"type":"quantitative","scale":{"domain":[-6.04,21.3],"nice":false},"axis":null},"y":{"datum":10,"type":"quantitative","scale":{"domain":[1.21,33.74],"nice":false},"axis":null},"y2":{"datum":30}}},
{"mark":{"type":"rule","color":"#555","strokeWidth":1.3},"encoding":{"x":{"datum":-1,"type":"quantitative","scale":{"domain":[-6.04,21.3],"nice":false},"axis":null},"x2":{"datum":16},"y":{"datum":10,"type":"quantitative","scale":{"domain":[1.21,33.74],"nice":false},"axis":null}}},
{"mark":{"type":"rule","color":"#444","strokeWidth":1.3},"encoding":{"x":{"field":"day","type":"quantitative","scale":{"domain":[-6.04,21.3],"nice":false},"axis":null},"y":{"field":"lo","type":"quantitative","scale":{"domain":[1.21,33.74],"nice":false},"axis":null},"y2":{"field":"hi"}}},
{"mark":{"type":"tick","orient":"horizontal","size":5,"thickness":1.5,"color":"#111"},"encoding":{"x":{"field":"day","type":"quantitative","scale":{"domain":[-6.04,21.3],"nice":false},"axis":null},"y":{"field":"lo","type":"quantitative","scale":{"domain":[1.21,33.74],"nice":false},"axis":null}}},
{"mark":{"type":"tick","orient":"horizontal","size":5,"thickness":1.5,"color":"#111"},"encoding":{"x":{"field":"day","type":"quantitative","scale":{"domain":[-6.04,21.3],"nice":false},"axis":null},"y":{"field":"hi","type":"quantitative","scale":{"domain":[1.21,33.74],"nice":false},"axis":null}}},
{"mark":{"type":"text","fontSize":15,"color":"#444","dy":5},"encoding":{"x":{"field":"day","type":"quantitative","scale":{"domain":[-6.04,21.3],"nice":false},"axis":null},"y":{"datum":30,"type":"quantitative","scale":{"domain":[1.21,33.74],"nice":false},"axis":null},"text":{"field":"sig"}}}
]},
{"width":206,"height":148,"data":{"name":"d"},"transform":[{"filter":"datum.g==2 && datum.m=='CT'"}],"resolve":{"axis":{"x":"independent","y":"independent"}},"layer":[
{"mark":{"type":"line","color":"#111","strokeWidth":1,"point":{"filled":true,"size":16,"color":"#111"}},"encoding":{"x":{"field":"day","type":"quantitative","scale":{"domain":[-6.04,21.3],"nice":false},"axis":{"values":[0,7,14],"offset":-40,"title":null,"labelExpr":"datum.value == 0 ? 'BL' : 'D' + datum.value"}},"y":{"field":"mean","type":"quantitative","scale":{"domain":[1.21,33.74],"nice":false},"axis":{"values":[10,15,20,25,30],"title":null}}}},
{"mark":{"type":"rule","color":"#555","strokeWidth":1.3},"encoding":{"x":{"datum":-1,"type":"quantitative","scale":{"domain":[-6.04,21.3],"nice":false},"axis":null},"y":{"datum":10,"type":"quantitative","scale":{"domain":[1.21,33.74],"nice":false},"axis":null},"y2":{"datum":30}}},
{"mark":{"type":"rule","color":"#555","strokeWidth":1.3},"encoding":{"x":{"datum":-1,"type":"quantitative","scale":{"domain":[-6.04,21.3],"nice":false},"axis":null},"x2":{"datum":16},"y":{"datum":10,"type":"quantitative","scale":{"domain":[1.21,33.74],"nice":false},"axis":null}}},
{"mark":{"type":"rule","color":"#444","strokeWidth":1.3},"encoding":{"x":{"field":"day","type":"quantitative","scale":{"domain":[-6.04,21.3],"nice":false},"axis":null},"y":{"field":"lo","type":"quantitative","scale":{"domain":[1.21,33.74],"nice":false},"axis":null},"y2":{"field":"hi"}}},
{"mark":{"type":"tick","orient":"horizontal","size":5,"thickness":1.5,"color":"#111"},"encoding":{"x":{"field":"day","type":"quantitative","scale":{"domain":[-6.04,21.3],"nice":false},"axis":null},"y":{"field":"lo","type":"quantitative","scale":{"domain":[1.21,33.74],"nice":false},"axis":null}}},
{"mark":{"type":"tick","orient":"horizontal","size":5,"thickness":1.5,"color":"#111"},"encoding":{"x":{"field":"day","type":"quantitative","scale":{"domain":[-6.04,21.3],"nice":false},"axis":null},"y":{"field":"hi","type":"quantitative","scale":{"domain":[1.21,33.74],"nice":false},"axis":null}}},
{"mark":{"type":"text","fontSize":15,"color":"#444","dy":5},"encoding":{"x":{"field":"day","type":"quantitative","scale":{"domain":[-6.04,21.3],"nice":false},"axis":null},"y":{"datum":30,"type":"quantitative","scale":{"domain":[1.21,33.74],"nice":false},"axis":null},"text":{"field":"sig"}}}
]},
{"width":206,"height":148,"data":{"name":"d"},"transform":[{"filter":"datum.g==3 && datum.m=='CT'"}],"resolve":{"axis":{"x":"independent","y":"independent"}},"layer":[
{"mark":{"type":"line","color":"#111","strokeWidth":1,"point":{"filled":true,"size":16,"color":"#111"}},"encoding":{"x":{"field":"day","type":"quantitative","scale":{"domain":[-6.04,21.3],"nice":false},"axis":{"values":[0,7,14],"offset":-40,"title":null,"labelExpr":"datum.value == 0 ? 'BL' : 'D' + datum.value"}},"y":{"field":"mean","type":"quantitative","scale":{"domain":[1.21,33.74],"nice":false},"axis":{"values":[10,15,20,25,30],"title":null}}}},
{"mark":{"type":"rule","color":"#555","strokeWidth":1.3},"encoding":{"x":{"datum":-1,"type":"quantitative","scale":{"domain":[-6.04,21.3],"nice":false},"axis":null},"y":{"datum":10,"type":"quantitative","scale":{"domain":[1.21,33.74],"nice":false},"axis":null},"y2":{"datum":30}}},
{"mark":{"type":"rule","color":"#555","strokeWidth":1.3},"encoding":{"x":{"datum":-1,"type":"quantitative","scale":{"domain":[-6.04,21.3],"nice":false},"axis":null},"x2":{"datum":16},"y":{"datum":10,"type":"quantitative","scale":{"domain":[1.21,33.74],"nice":false},"axis":null}}},
{"mark":{"type":"rule","color":"#444","strokeWidth":1.3},"encoding":{"x":{"field":"day","type":"quantitative","scale":{"domain":[-6.04,21.3],"nice":false},"axis":null},"y":{"field":"lo","type":"quantitative","scale":{"domain":[1.21,33.74],"nice":false},"axis":null},"y2":{"field":"hi"}}},
{"mark":{"type":"tick","orient":"horizontal","size":5,"thickness":1.5,"color":"#111"},"encoding":{"x":{"field":"day","type":"quantitative","scale":{"domain":[-6.04,21.3],"nice":false},"axis":null},"y":{"field":"lo","type":"quantitative","scale":{"domain":[1.21,33.74],"nice":false},"axis":null}}},
{"mark":{"type":"tick","orient":"horizontal","size":5,"thickness":1.5,"color":"#111"},"encoding":{"x":{"field":"day","type":"quantitative","scale":{"domain":[-6.04,21.3],"nice":false},"axis":null},"y":{"field":"hi","type":"quantitative","scale":{"domain":[1.21,33.74],"nice":false},"axis":null}}},
{"mark":{"type":"text","fontSize":15,"color":"#444","dy":5},"encoding":{"x":{"field":"day","type":"quantitative","scale":{"domain":[-6.04,21.3],"nice":false},"axis":null},"y":{"datum":30,"type":"quantitative","scale":{"domain":[1.21,33.74],"nice":false},"axis":null},"text":{"field":"sig"}}}
]},
{"width":205,"height":148,"data":{"name":"d"},"transform":[{"filter":"datum.g==4 && datum.m=='CT'"}],"resolve":{"axis":{"x":"independent","y":"independent"}},"layer":[
{"mark":{"type":"line","color":"#111","strokeWidth":1,"point":{"filled":true,"size":16,"color":"#111"}},"encoding":{"x":{"field":"day","type":"quantitative","scale":{"domain":[-6.04,21.17],"nice":false},"axis":{"values":[0,7,14],"offset":-40,"title":null,"labelExpr":"datum.value == 0 ? 'BL' : 'D' + datum.value"}},"y":{"field":"mean","type":"quantitative","scale":{"domain":[1.21,33.74],"nice":false},"axis":{"values":[10,15,20,25,30],"title":null}}}},
{"mark":{"type":"rule","color":"#555","strokeWidth":1.3},"encoding":{"x":{"datum":-1,"type":"quantitative","scale":{"domain":[-6.04,21.17],"nice":false},"axis":null},"y":{"datum":10,"type":"quantitative","scale":{"domain":[1.21,33.74],"nice":false},"axis":null},"y2":{"datum":30}}},
{"mark":{"type":"rule","color":"#555","strokeWidth":1.3},"encoding":{"x":{"datum":-1,"type":"quantitative","scale":{"domain":[-6.04,21.17],"nice":false},"axis":null},"x2":{"datum":16},"y":{"datum":10,"type":"quantitative","scale":{"domain":[1.21,33.74],"nice":false},"axis":null}}},
{"mark":{"type":"rule","color":"#444","strokeWidth":1.3},"encoding":{"x":{"field":"day","type":"quantitative","scale":{"domain":[-6.04,21.17],"nice":false},"axis":null},"y":{"field":"lo","type":"quantitative","scale":{"domain":[1.21,33.74],"nice":false},"axis":null},"y2":{"field":"hi"}}},
{"mark":{"type":"tick","orient":"horizontal","size":5,"thickness":1.5,"color":"#111"},"encoding":{"x":{"field":"day","type":"quantitative","scale":{"domain":[-6.04,21.17],"nice":false},"axis":null},"y":{"field":"lo","type":"quantitative","scale":{"domain":[1.21,33.74],"nice":false},"axis":null}}},
{"mark":{"type":"tick","orient":"horizontal","size":5,"thickness":1.5,"color":"#111"},"encoding":{"x":{"field":"day","type":"quantitative","scale":{"domain":[-6.04,21.17],"nice":false},"axis":null},"y":{"field":"hi","type":"quantitative","scale":{"domain":[1.21,33.74],"nice":false},"axis":null}}},
{"mark":{"type":"text","fontSize":15,"color":"#444","dy":5},"encoding":{"x":{"field":"day","type":"quantitative","scale":{"domain":[-6.04,21.17],"nice":false},"axis":null},"y":{"datum":30,"type":"quantitative","scale":{"domain":[1.21,33.74],"nice":false},"axis":null},"text":{"field":"sig"}}}
]},
{"width":205,"height":148,"data":{"name":"d"},"transform":[{"filter":"datum.g==5 && datum.m=='CT'"}],"resolve":{"axis":{"x":"independent","y":"independent"}},"layer":[
{"mark":{"type":"line","color":"#111","strokeWidth":1,"point":{"filled":true,"size":16,"color":"#111"}},"encoding":{"x":{"field":"day","type":"quantitative","scale":{"domain":[-6.04,21.17],"nice":false},"axis":{"values":[0,7,14],"offset":-40,"title":null,"labelExpr":"datum.value == 0 ? 'BL' : 'D' + datum.value"}},"y":{"field":"mean","type":"quantitative","scale":{"domain":[1.21,33.74],"nice":false},"axis":{"values":[10,15,20,25,30],"title":null}}}},
{"mark":{"type":"rule","color":"#555","strokeWidth":1.3},"encoding":{"x":{"datum":-1,"type":"quantitative","scale":{"domain":[-6.04,21.17],"nice":false},"axis":null},"y":{"datum":10,"type":"quantitative","scale":{"domain":[1.21,33.74],"nice":false},"axis":null},"y2":{"datum":30}}},
{"mark":{"type":"rule","color":"#555","strokeWidth":1.3},"encoding":{"x":{"datum":-1,"type":"quantitative","scale":{"domain":[-6.04,21.17],"nice":false},"axis":null},"x2":{"datum":16},"y":{"datum":10,"type":"quantitative","scale":{"domain":[1.21,33.74],"nice":false},"axis":null}}},
{"mark":{"type":"rule","color":"#444","strokeWidth":1.3},"encoding":{"x":{"field":"day","type":"quantitative","scale":{"domain":[-6.04,21.17],"nice":false},"axis":null},"y":{"field":"lo","type":"quantitative","scale":{"domain":[1.21,33.74],"nice":false},"axis":null},"y2":{"field":"hi"}}},
{"mark":{"type":"tick","orient":"horizontal","size":5,"thickness":1.5,"color":"#111"},"encoding":{"x":{"field":"day","type":"quantitative","scale":{"domain":[-6.04,21.17],"nice":false},"axis":null},"y":{"field":"lo","type":"quantitative","scale":{"domain":[1.21,33.74],"nice":false},"axis":null}}},
{"mark":{"type":"tick","orient":"horizontal","size":5,"thickness":1.5,"color":"#111"},"encoding":{"x":{"field":"day","type":"quantitative","scale":{"domain":[-6.04,21.17],"nice":false},"axis":null},"y":{"field":"hi","type":"quantitative","scale":{"domain":[1.21,33.74],"nice":false},"axis":null}}},
{"mark":{"type":"text","fontSize":15,"color":"#444","dy":5},"encoding":{"x":{"field":"day","type":"quantitative","scale":{"domain":[-6.04,21.17],"nice":false},"axis":null},"y":{"datum":30,"type":"quantitative","scale":{"domain":[1.21,33.74],"nice":false},"axis":null},"text":{"field":"sig"}}}
]},
{"width":199,"height":148,"data":{"name":"d"},"transform":[{"filter":"datum.g==6 && datum.m=='CT'"}],"resolve":{"axis":{"x":"independent","y":"independent"}},"layer":[
{"mark":{"type":"line","color":"#111","strokeWidth":1,"point":{"filled":true,"size":16,"color":"#111"}},"encoding":{"x":{"field":"day","type":"quantitative","scale":{"domain":[-6.04,20.37],"nice":false},"axis":{"values":[0,7,14],"offset":-40,"title":null,"labelExpr":"datum.value == 0 ? 'BL' : 'D' + datum.value"}},"y":{"field":"mean","type":"quantitative","scale":{"domain":[1.21,33.74],"nice":false},"axis":{"values":[10,15,20,25,30],"title":null}}}},
{"mark":{"type":"rule","color":"#555","strokeWidth":1.3},"encoding":{"x":{"datum":-1,"type":"quantitative","scale":{"domain":[-6.04,20.37],"nice":false},"axis":null},"y":{"datum":10,"type":"quantitative","scale":{"domain":[1.21,33.74],"nice":false},"axis":null},"y2":{"datum":30}}},
{"mark":{"type":"rule","color":"#555","strokeWidth":1.3},"encoding":{"x":{"datum":-1,"type":"quantitative","scale":{"domain":[-6.04,20.37],"nice":false},"axis":null},"x2":{"datum":16},"y":{"datum":10,"type":"quantitative","scale":{"domain":[1.21,33.74],"nice":false},"axis":null}}},
{"mark":{"type":"rule","color":"#444","strokeWidth":1.3},"encoding":{"x":{"field":"day","type":"quantitative","scale":{"domain":[-6.04,20.37],"nice":false},"axis":null},"y":{"field":"lo","type":"quantitative","scale":{"domain":[1.21,33.74],"nice":false},"axis":null},"y2":{"field":"hi"}}},
{"mark":{"type":"tick","orient":"horizontal","size":5,"thickness":1.5,"color":"#111"},"encoding":{"x":{"field":"day","type":"quantitative","scale":{"domain":[-6.04,20.37],"nice":false},"axis":null},"y":{"field":"lo","type":"quantitative","scale":{"domain":[1.21,33.74],"nice":false},"axis":null}}},
{"mark":{"type":"tick","orient":"horizontal","size":5,"thickness":1.5,"color":"#111"},"encoding":{"x":{"field":"day","type":"quantitative","scale":{"domain":[-6.04,20.37],"nice":false},"axis":null},"y":{"field":"hi","type":"quantitative","scale":{"domain":[1.21,33.74],"nice":false},"axis":null}}},
{"mark":{"type":"text","fontSize":15,"color":"#444","dy":5},"encoding":{"x":{"field":"day","type":"quantitative","scale":{"domain":[-6.04,20.37],"nice":false},"axis":null},"y":{"datum":30,"type":"quantitative","scale":{"domain":[1.21,33.74],"nice":false},"axis":null},"text":{"field":"sig"}}}
]}
],
"config": {
"font": "Liberation Serif",
"view": {"stroke": "#1a1a1a", "strokeWidth": 1.5},
"concat": {"spacing": 0},
"text": {"font": "Liberation Serif"},
"axis": {"grid": false, "domain": false, "labelFont": "Liberation Serif", "labelFontWeight": "bold", "labelFontSize": 10.5, "labelColor": "#222", "tickColor": "#555", "tickSize": 2.5, "tickWidth": 1, "labelPadding": 1},
"axisY": {"offset": -38}
}
}
